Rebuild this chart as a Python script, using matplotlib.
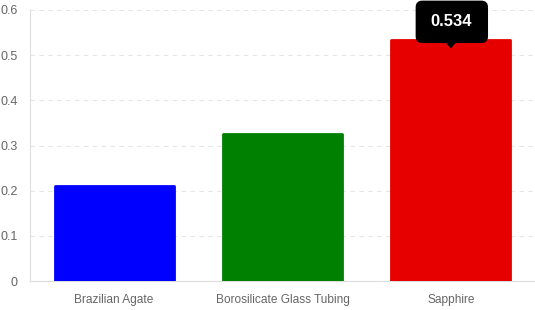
import matplotlib
matplotlib.use("Agg")
import matplotlib.pyplot as plt
import matplotlib.transforms as mtransforms
from matplotlib.patches import FancyBboxPatch, Polygon

# data
materials = ["Brazilian Agate", "Borosilicate Glass Tubing", "Sapphire"]
values = [0.21, 0.325, 0.534]
colors = ["#0000ff", "#008000", "#e60000"]
yticks = [0, 0.1, 0.2, 0.3, 0.4, 0.5, 0.6]
tooltip_idx = 2

plt.rcParams["font.family"] = ["Liberation Sans", "DejaVu Sans"]

fig = plt.figure(figsize=(5.35, 3.1), dpi=100)
ax = fig.add_axes([30 / 535, 1 - 281 / 310, 505 / 535, 271 / 310])

x = list(range(len(materials)))
bars = ax.bar(x, values, width=0.705, color=colors, edgecolor=colors,
              linewidth=2, zorder=3)
for b in bars:
    b.set_joinstyle("round")

ax.set_xlim(-0.5, 2.5)
ax.set_ylim(0, 0.6)
ax.set_yticks(yticks)
ax.set_yticklabels([("%g" % t) for t in yticks])
ax.set_xticks(x)
ax.set_xticklabels(materials)
ax.tick_params(axis="both", length=0, colors="#666666", labelsize=9)
ax.tick_params(axis="x", labelsize=8.6)
ax.tick_params(axis="y", pad=9)
ax.tick_params(axis="x", pad=9)

ax.grid(axis="y", color="#e5e5e5", linestyle=(0, (4, 4)), linewidth=0.8, zorder=0)
for s in ["top", "right"]:
    ax.spines[s].set_visible(False)
ax.spines["left"].set_color("#dddddd")
ax.spines["bottom"].set_color("#dddddd")

# tooltip over the hovered bar (sizes in inches at 100 dpi)
trans = fig.dpi_scale_trans + mtransforms.ScaledTranslation(
    x[tooltip_idx], values[tooltip_idx], ax.transData)
box = FancyBboxPatch((-0.325, -0.005), 0.67, 0.37,
                     boxstyle="round,pad=0.02,rounding_size=0.06",
                     fc="black", ec="black", transform=trans,
                     clip_on=False, zorder=5)
ax.add_patch(box)
tri = Polygon([(-0.06, -0.02), (0.06, -0.02), (0.0, -0.085)], closed=True,
              fc="black", ec="none", transform=trans, clip_on=False, zorder=5)
ax.add_patch(tri)
ax.text(0.0, 0.186, "%.3f" % values[tooltip_idx], transform=trans,
        ha="center", va="center", color="white", fontsize=12,
        fontweight="bold", zorder=6, clip_on=False)

fig.savefig("out.png", dpi=100)
